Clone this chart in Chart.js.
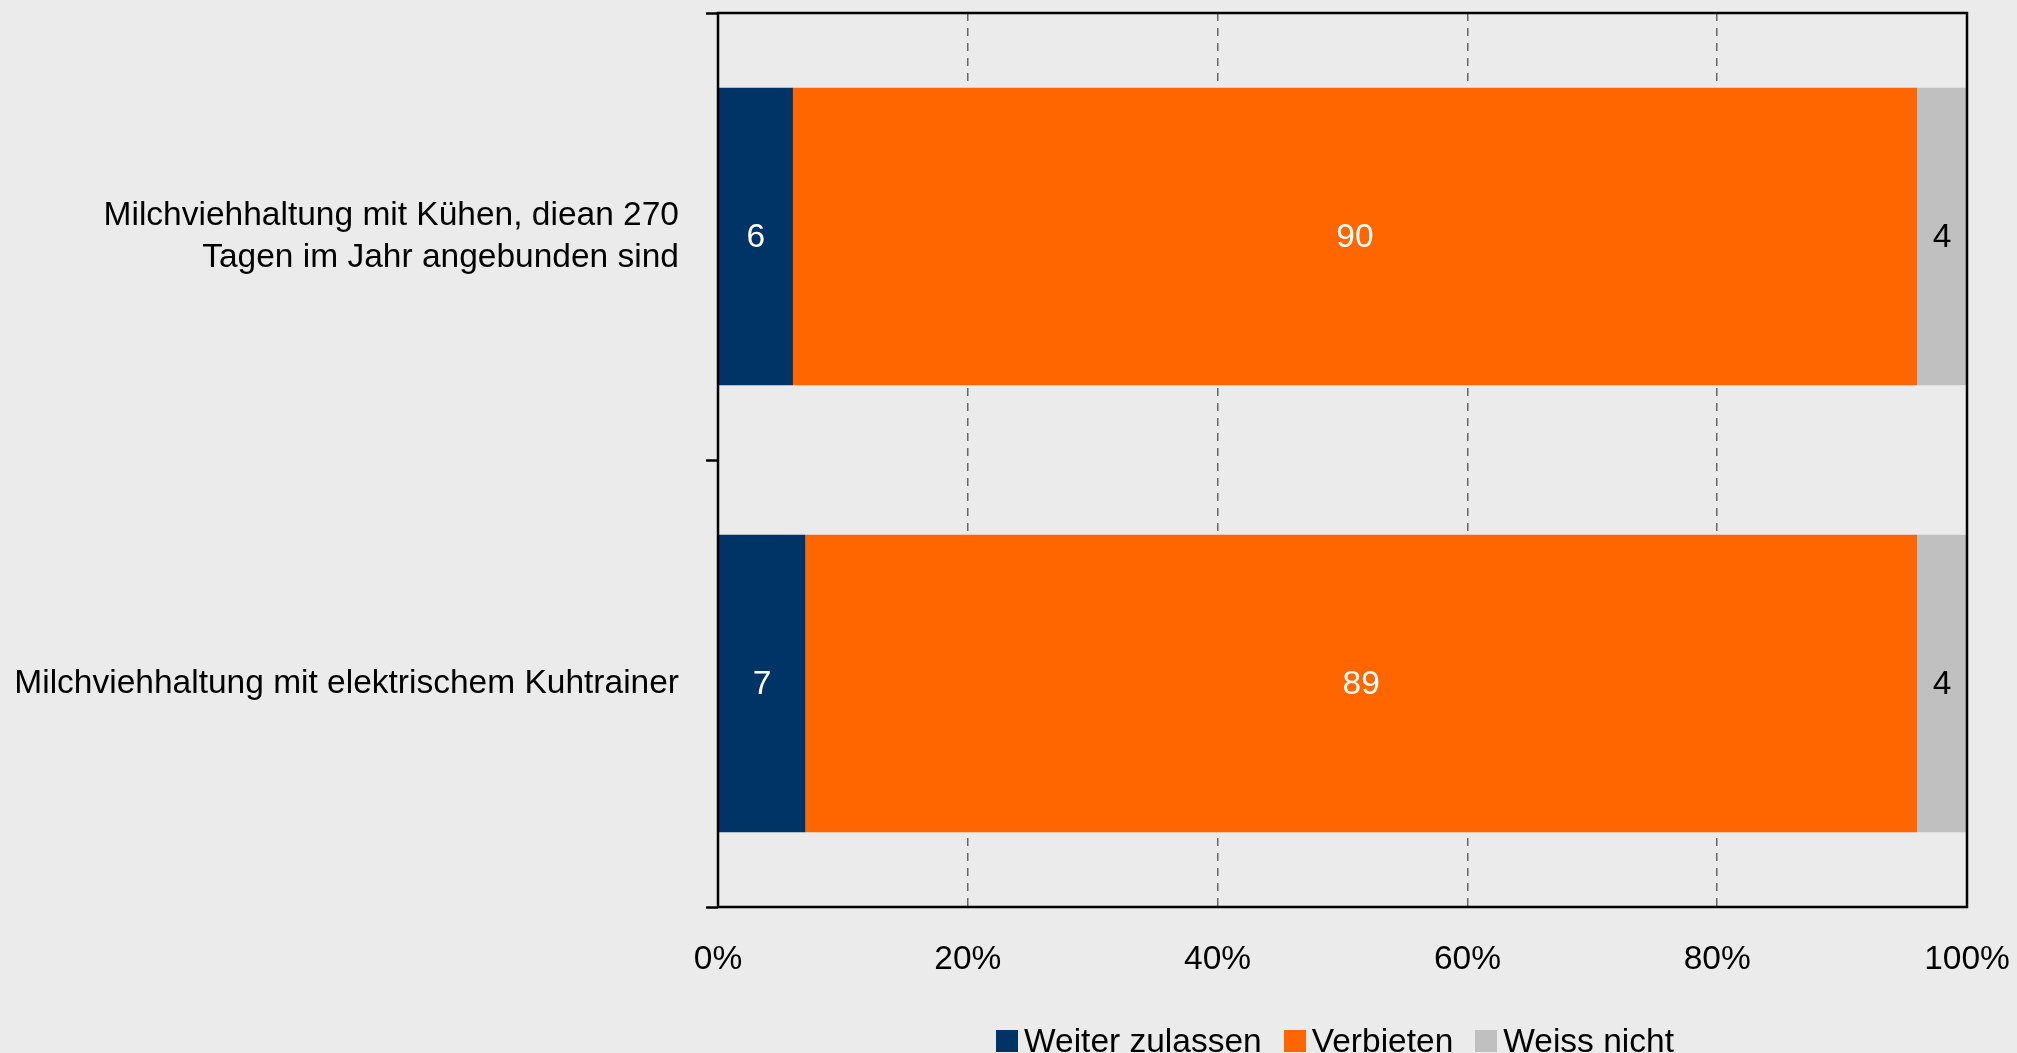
<!DOCTYPE html>
<html>
<head>
<meta charset="utf-8">
<script src="https://cdn.jsdelivr.net/npm/chart.js@4/dist/chart.umd.min.js"></script>
<style>
    html, body { margin: 0; padding: 0; background: #ebebeb; }
    #wrap { position: relative; width: 2017px; height: 1053px; overflow: hidden; }
    #legend {
        position: absolute; top: 1022px; left: 0;
        display: flex; align-items: center; white-space: nowrap;
        font-family: 'Liberation Sans', Arial, sans-serif; font-size: 33.5px; color: #000;
    }
    #legend .item { display: flex; align-items: center; margin-right: 22px; }
    #legend .item:last-child { margin-right: 0; }
    #legend .box { width: 22px; height: 22px; margin-right: 6px; }
</style>
</head>
<body>
<div id="wrap">
    <canvas id="chart" width="2017" height="1053"></canvas>
    <div id="legend"></div>
</div>
<script>
// Kategoriler ve seriler
const categories = [
    ['Milchviehhaltung mit Kühen, diean 270', 'Tagen im Jahr angebunden sind'],
    'Milchviehhaltung mit elektrischem Kuhtrainer'
];
const seriesNames = ['Weiter zulassen', 'Verbieten', 'Weiss nicht'];
const weiterZulassen = [6, 7];
const verbieten = [90, 89];
const weissNicht = [4, 4];
const xTicks = [0, 20, 40, 60, 80, 100];

const colors = ['#003366', '#ff6600', '#c0c0c0'];
const labelColors = ['#ffffff', '#ffffff', '#000000'];
const fontFamily = "'Liberation Sans', Arial, sans-serif";
const fontSize = 33.5;

// Balken-Werte in der Mitte schreiben
const valueLabels = {
    id: 'valueLabels',
    afterDatasetsDraw(chart) {
        const ctx = chart.ctx;
        ctx.save();
        ctx.font = `${fontSize}px ${fontFamily}`;
        ctx.textAlign = 'center';
        ctx.textBaseline = 'middle';
        chart.data.datasets.forEach((ds, i) => {
            const meta = chart.getDatasetMeta(i);
            meta.data.forEach((bar, j) => {
                const p = bar.getProps(['x', 'y', 'base'], true);
                ctx.fillStyle = labelColors[i];
                ctx.fillText(String(ds.data[j]), (p.x + p.base) / 2, p.y + 1);
            });
        });
        ctx.restore();
    }
};

// Rahmen um den Plotbereich
const frame = {
    id: 'frame',
    afterDraw(chart) {
        const { left, right, top, bottom } = chart.chartArea;
        const ctx = chart.ctx;
        ctx.save();
        ctx.strokeStyle = '#000';
        ctx.lineWidth = 2.5;
        ctx.strokeRect(left, top, right - left, bottom - top);
        ctx.restore();
    }
};

const chart = new Chart(document.getElementById('chart'), {
    type: 'bar',
    data: {
        labels: categories,
        datasets: [weiterZulassen, verbieten, weissNicht].map((d, i) => ({
            label: seriesNames[i],
            data: d,
            backgroundColor: colors[i],
            borderWidth: 0,
            categoryPercentage: 1,
            barPercentage: 0.665
        }))
    },
    options: {
        indexAxis: 'y',
        responsive: false,
        animation: false,
        layout: { padding: { top: 13, right: 50, left: 0, bottom: 0 } },
        plugins: {
            legend: { display: false },
            tooltip: { enabled: false }
        },
        scales: {
            x: {
                stacked: true,
                min: 0,
                max: 100,
                afterBuildTicks: (scale) => { scale.ticks = xTicks.map(v => ({ value: v })); },
                afterFit: (scale) => {
                    scale.height = 146;
                    scale.paddingLeft = 0;
                    scale.paddingRight = 0;
                },
                ticks: {
                    callback: (v) => v + '%',
                    color: '#000',
                    padding: 33,
                    maxRotation: 0,
                    font: { family: fontFamily, size: fontSize }
                },
                grid: {
                    drawTicks: false,
                    color: (c) => (c.tick && (c.tick.value === 0 || c.tick.value === 100)) ? 'rgba(0,0,0,0)' : '#666',
                    lineWidth: 1.5
                },
                border: { display: false, dash: [8, 7] }
            },
            y: {
                stacked: true,
                afterFit: (scale) => {
                    scale.width = 718;
                    scale.paddingTop = 0;
                    scale.paddingBottom = 0;
                },
                ticks: {
                    color: '#000',
                    padding: 27,
                    font: { family: fontFamily, size: fontSize, lineHeight: 1.25 }
                },
                grid: {
                    offset: true,
                    drawOnChartArea: false,
                    drawTicks: true,
                    tickLength: 12,
                    tickColor: '#000',
                    tickWidth: 2.5
                },
                border: { display: false }
            }
        }
    },
    plugins: [valueLabels, frame]
});

// Legende
const legend = document.getElementById('legend');
seriesNames.forEach((name, i) => {
    const item = document.createElement('div');
    item.className = 'item';
    item.innerHTML = `<div class="box" style="background:${colors[i]}"></div><span>${name}</span>`;
    legend.appendChild(item);
});
legend.style.left = (1335 - legend.offsetWidth / 2) + 'px';
</script>
</body>
</html>
